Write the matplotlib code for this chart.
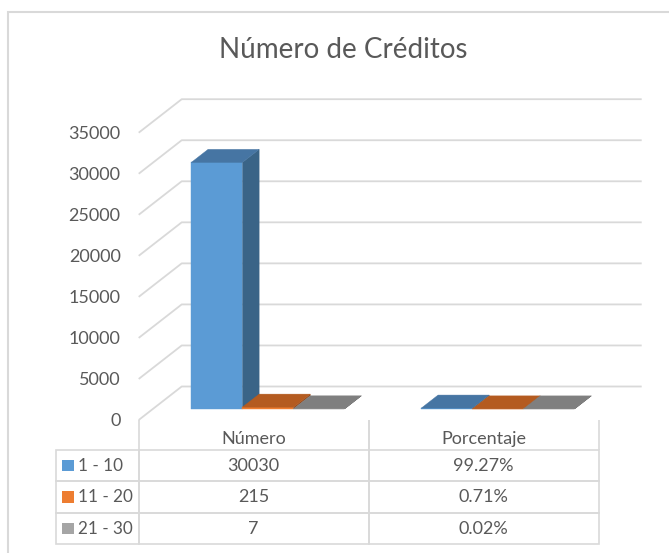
import matplotlib.pyplot as plt
from matplotlib.patches import Polygon, Rectangle
from matplotlib.table import Table

plt.rcParams['font.family'] = ['Lato', 'DejaVu Sans']

# data
categories = ['Número', 'Porcentaje']
series = ['1 - 10', '11 - 20', '21 - 30']
numero = [30030, 215, 7]
porcentaje = [99.27, 0.71, 0.02]
yticks = [0, 5000, 10000, 15000, 20000, 25000, 30000, 35000]

front_c = ['#5B9BD5', '#ED7D31', '#A5A5A5']
top_c = ['#4675A3', '#B45B20', '#7F7F7F']
side_c = ['#3A6487', '#97491A', '#6A6A6A']
txt = '#595959'
grid = '#D9D9D9'

W, H = 669, 553
fig = plt.figure(figsize=(W / 100, H / 100), dpi=100)
ax = fig.add_axes([138.7 / W, (H - 420) / H, 460 / W, 287.3 / H])
ax.set_xlim(0, 2)
ax.set_ylim(0, 35000)

# oblique depth: one unit of depth = 43 px right, 33.5 px up
ddx = 43 / 460 * 2
ddy = 33.5 / 287.3 * 35000


def P(x, y, d):
    return (x + d * ddx, y + d * ddy)


# walls: side diagonals + back gridlines
for v in yticks:
    pts = [P(0, v, 0), P(0, v, 1), P(2, v, 1)]
    ax.plot([p[0] for p in pts], [p[1] for p in pts], color=grid,
            lw=1.3, clip_on=False, zorder=1, solid_capstyle='butt')

# 3d bars
w = 0.222
d0, d1 = 0.33, 0.72
for c, vals in enumerate([numero, porcentaje]):
    for s, v in enumerate(vals):
        x0 = c + 0.5 + (s - 1) * w - w / 2
        x1 = x0 + w
        z = 2 + c + s * 0.1
        front = [P(x0, 0, d0), P(x1, 0, d0), P(x1, v, d0), P(x0, v, d0)]
        side = [P(x1, 0, d0), P(x1, 0, d1), P(x1, v, d1), P(x1, v, d0)]
        top = [P(x0, v, d0), P(x1, v, d0), P(x1, v, d1), P(x0, v, d1)]
        ax.add_patch(Polygon(side, closed=True, fc=side_c[s], ec=side_c[s], lw=0.3, zorder=z, clip_on=False))
        ax.add_patch(Polygon(front, closed=True, fc=front_c[s], ec=front_c[s], lw=0.3, zorder=z, clip_on=False))
        ax.add_patch(Polygon(top, closed=True, fc=top_c[s], ec=top_c[s], lw=0.3, zorder=z, clip_on=False))

ax.set_yticks(yticks)
ax.set_yticklabels([str(v) for v in yticks])
ax.tick_params(axis='y', length=0, pad=13, labelsize=13, labelcolor=txt)
ax.set_xticks([])
for sp in ax.spines.values():
    sp.set_visible(False)
ax.patch.set_visible(False)

# data table
tb = Table(ax, loc='bottom')
hh = 30 / 287.3
rh = 31.4 / 287.3
lw_ = 82.7 / 460
for j, cat in enumerate(categories):
    cell = tb.add_cell(0, j, 0.5, hh, text='', loc='center', edgecolor=grid, facecolor='none')
    cell.visible_edges = 'LR'
    ax.text(0.25 + 0.5 * j, -19 / 287.3, cat, transform=ax.transAxes, ha='center',
            va='center', fontsize=13, color=txt)
rows = [[str(n), f'{p:.2f}%'] for n, p in zip(numero, porcentaje)]
label_cells = []
for i, lab in enumerate(series):
    cell = tb.add_cell(i + 1, -1, lw_, rh, text=lab, loc='left', edgecolor=grid, facecolor='none')
    cell.PAD = 0.27
    label_cells.append(cell)
    for j in range(2):
        tb.add_cell(i + 1, j, 0.5, rh, text=rows[i][j], loc='center', edgecolor=grid, facecolor='none')
tb.auto_set_font_size(False)
tb.set_fontsize(13)
for cell in tb.get_celld().values():
    cell.get_text().set_color(txt)
    cell.set_linewidth(1.2)
for cell in label_cells:
    cell.get_text().set_fontsize(12.3)
ax.add_table(tb)

# legend keys inside the table
for i in range(len(series)):
    yc = -(hh + rh * (i + 0.5))
    ax.add_patch(Rectangle(((62.3 - 138.7) / 460, yc - 0.0198), 0.0248, 0.0397,
                           transform=ax.transAxes, fc=front_c[i], ec='none', clip_on=False))

fig.text(343.7 / W, 1 - 50 / H, 'Número de Créditos', ha='center', va='center',
         fontsize=20, color=txt)

# chart border
fig.add_artist(Rectangle((8 / W, -0.1), 1.2, (H - 12) / H + 0.1, transform=fig.transFigure,
                         fill=False, ec=grid, lw=1.5))

fig.savefig('out.png', dpi=100)
